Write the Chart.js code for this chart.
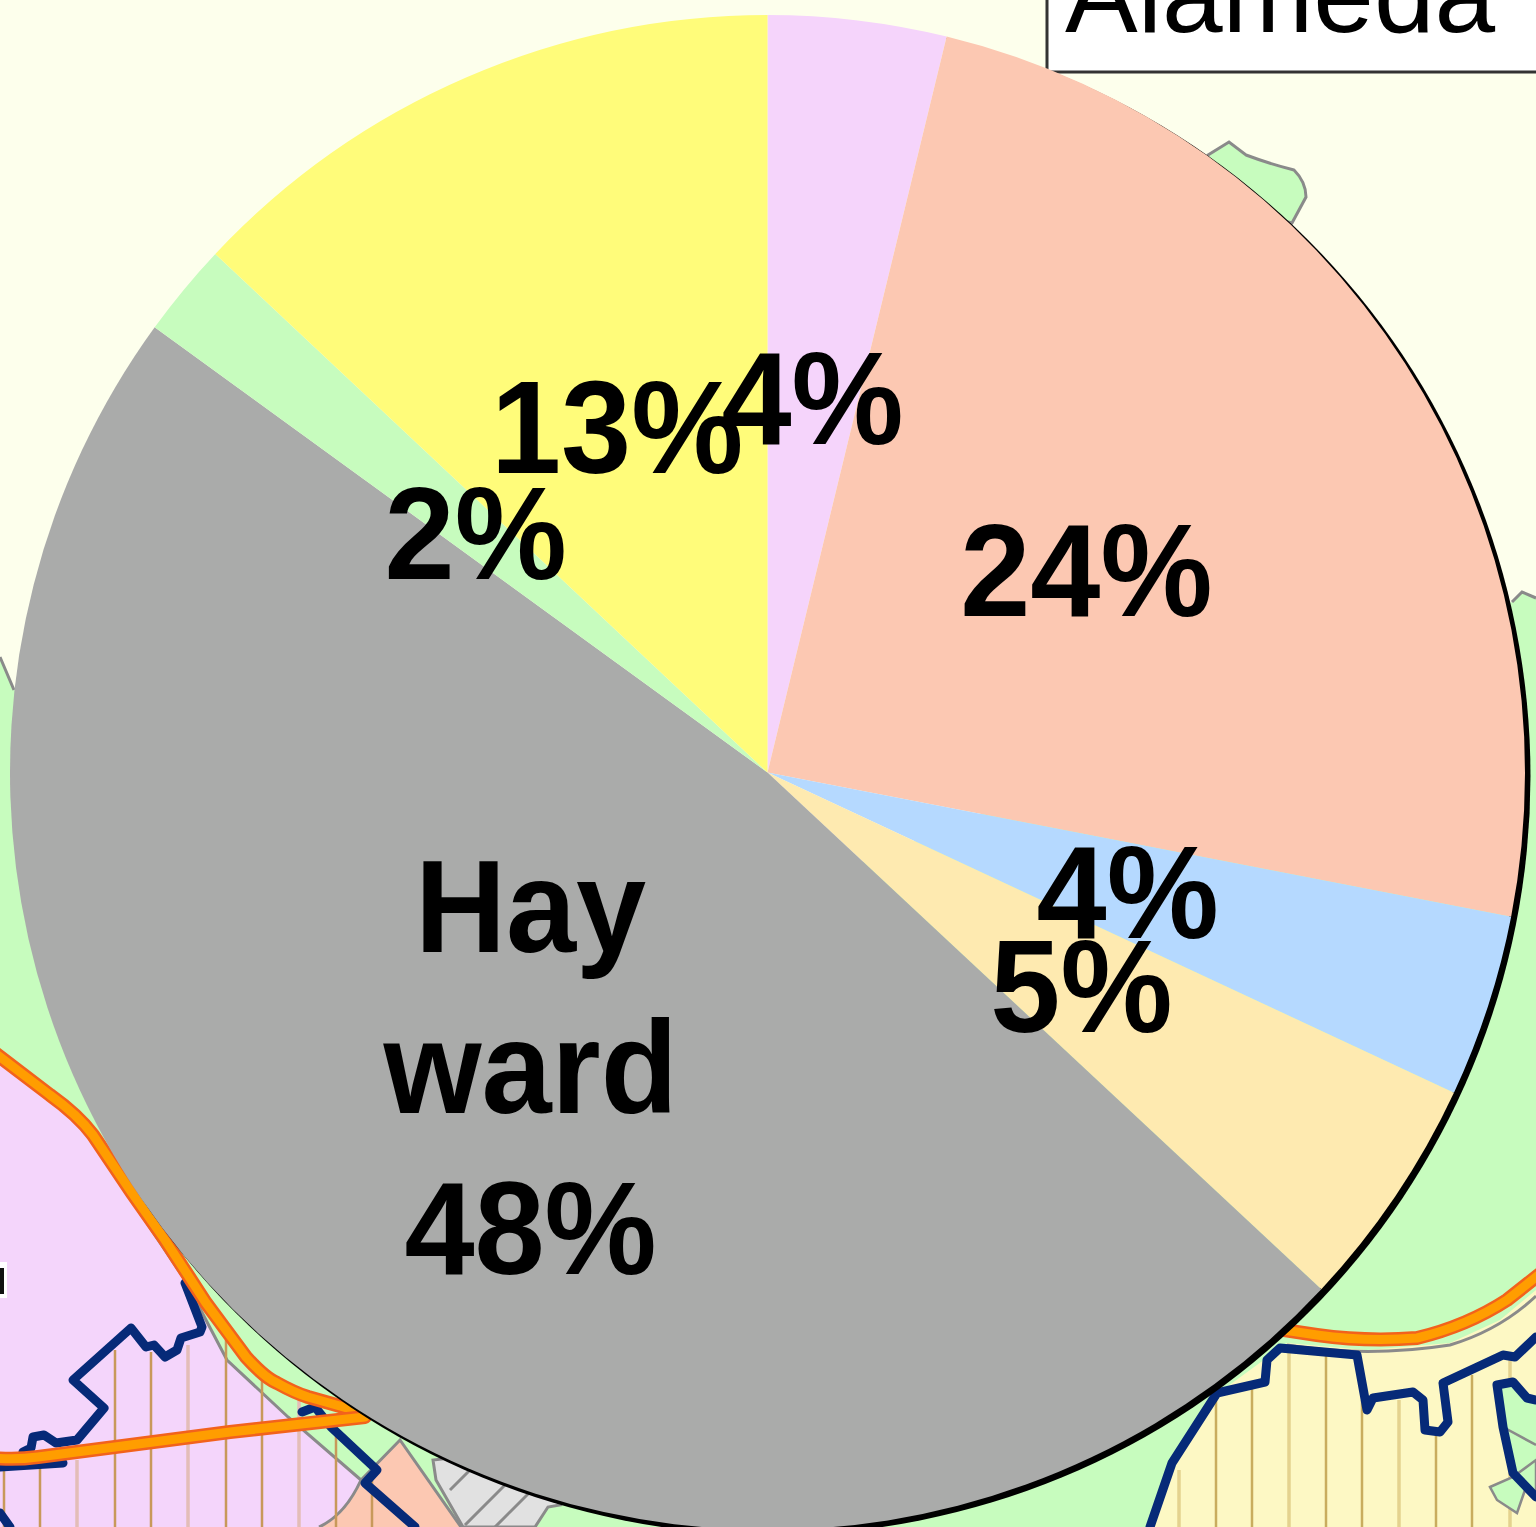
<!DOCTYPE html>
<html>
<head>
<meta charset="utf-8">
<title>Hayward</title>
<script src="https://cdn.jsdelivr.net/npm/chart.js@4"></script>
<style>
  html, body { margin: 0; padding: 0; width: 1536px; height: 1527px; overflow: hidden; background: #fdffec; }
  #map, #pie { position: absolute; left: 0; top: 0; }
  #map text { font-family: "Liberation Sans", Arial, sans-serif; font-size: 109px; }
</style>
</head>
<body>
<!-- map behind the pie -->
<svg id="map" width="1536" height="1527" viewBox="0 0 1536 1527">
  <rect x="1047" y="-10" width="520" height="82" fill="#fff" stroke="#333" stroke-width="3"/>
  <text x="1065" y="32" fill="#000">Alameda</text>

  <path d="M1208,155 L1229,142 L1246,155 Q1270,164 1294,170 Q1306,182 1306,197 L1292,223 L1200,200 Z" fill="#c7fcbe" stroke="#8a8a8a" stroke-width="3"/>
  <path d="M0,657 L14,690 L767,900 L1512,602 L1522,592 L1536,598 L1536,1527 L0,1527 Z" fill="#c7fcbe"/>
  <path d="M0,657 L14,690 M1512,602 L1522,592 L1536,598" fill="none" stroke="#8a8a8a" stroke-width="3"/>

  <!-- lilac area, left -->
  <path d="M0,1053 L50,1095 Q78,1115 93,1135 L132,1190 L185,1280 L227,1360 L288,1417 L361,1480 Q345,1515 319,1527 L0,1527 Z" fill="#f4d5fb"/>
  <path d="M120,1183 L185,1280 L227,1360 L288,1417 L361,1480" fill="none" stroke="#8a8a8a" stroke-width="3"/>
  <path d="M400,1440 L461,1527 L319,1527 Q345,1515 361,1480 Z" fill="#fcc8b2"/>
  <path d="M319,1527 Q345,1515 361,1480 L400,1440 L461,1527" fill="none" stroke="#8a8a8a" stroke-width="3"/>
  <path d="M433,1460 L436,1480 L463,1527 L535,1527 L548,1507 L560,1505 L520,1450 Z" fill="#e1e1e1" stroke="#8a8a8a" stroke-width="3"/>
  <path d="M450,1490 L485,1455 M465,1525 L520,1470 M495,1527 L545,1477" stroke="#8a8a8a" stroke-width="3" fill="none"/>
  <path d="M4,1462V1527 M40,1462V1527 M115,1350V1527 M151,1352V1527 M226,1340V1527 M262,1380V1527 M336,1430V1527 M372,1480V1527" stroke="#c8995a" stroke-width="2.5"/>
  <path d="M77,1460V1527 M188,1345V1527 M299,1400V1527" stroke="#e3bdb8" stroke-width="3.5"/>

  <!-- yellow area, right -->
  <path d="M1150,1527 L1172,1463 L1203,1410 L1213,1397 L1287,1343 L1367,1350 L1450,1343 L1500,1320 L1536,1290 L1536,1527 Z" fill="#fdf8c4"/>
  <path d="M1179,1470V1527 M1289,1350V1527 M1399,1400V1527 M1510,1360V1527" stroke="#e4d28f" stroke-width="3.5"/>
  <path d="M1216,1400V1527 M1252,1385V1527 M1326,1352V1527 M1362,1400V1527 M1436,1432V1527 M1472,1375V1527" stroke="#c9ad5e" stroke-width="2.5"/>
  <path d="M1497,1383 L1513,1380 L1527,1398 L1536,1400 L1536,1497 L1513,1473 L1503,1427 Z" fill="#c7fcbe"/>
  <path d="M1490,1487 L1513,1477 L1536,1460 L1536,1497 L1525,1490 L1517,1513 L1497,1500 Z" fill="#c7fcbe" stroke="#8a8a8a" stroke-width="2.5"/>
  <path d="M1497,1383 L1503,1427 L1536,1445" fill="none" stroke="#8a8a8a" stroke-width="2.5"/>
  <path d="M1287,1345 Q1367,1358 1450,1345 Q1500,1330 1536,1296" fill="none" stroke="#8a8a8a" stroke-width="3"/>

  <!-- boundary lines -->
  <g fill="none" stroke="#062a78" stroke-width="9" stroke-linejoin="round" stroke-linecap="round">
    <path d="M185,1283 L202,1327 L200,1332 L181,1338 L177,1350 L165,1357 L154,1345 L146,1347 L131,1328 L73,1380 L104,1408 L77,1440 L56,1443 L44,1435 L33,1437 L31,1448 L23,1452 M0,1467 L63,1463 M0,1513 L10,1527 M302,1412 L315,1407 L331,1427 L377,1470 L365,1483 L415,1527"/>
    <path d="M1150,1527 L1172,1463 L1217,1393 L1265,1382 L1267,1360 L1280,1348 L1357,1355 L1367,1410 L1373,1398 L1413,1392 L1423,1400 L1425,1430 L1440,1432 L1448,1422 L1443,1383 L1503,1355 L1515,1357 L1536,1337 M1503,1427 L1513,1473 L1536,1497 M1503,1427 L1497,1385 L1513,1382 L1527,1398 L1536,1400"/>
  </g>

  <!-- roads -->
  <g fill="none" stroke-linejoin="round" stroke-linecap="round">
    <path d="M-5,1053 L50,1095 Q78,1115 93,1135 L132,1193 L165,1240 L206,1303 L246,1357 Q265,1378 277,1383 Q295,1393 308,1397 L354,1410" stroke="#f2621c" stroke-width="14"/>
    <path d="M-5,1053 L50,1095 Q78,1115 93,1135 L132,1193 L165,1240 L206,1303 L246,1357 Q265,1378 277,1383 Q295,1393 308,1397 L354,1410" stroke="#ff9d00" stroke-width="9"/>
    <path d="M-5,1458 Q15,1460 38,1457 L115,1447 L230,1432 L365,1417" stroke="#f2621c" stroke-width="14"/>
    <path d="M-5,1458 Q15,1460 38,1457 L115,1447 L230,1432 L365,1417" stroke="#ff9d00" stroke-width="9"/>
    <path d="M1270,1328 L1317,1335 Q1367,1342 1417,1338 Q1467,1326 1507,1300 L1545,1270" stroke="#f2621c" stroke-width="14"/>
    <path d="M1270,1328 L1317,1335 Q1367,1342 1417,1338 Q1467,1326 1507,1300 L1545,1270" stroke="#ff9d00" stroke-width="9"/>
  </g>
  <rect x="-2" y="1262" width="9" height="36" fill="#fff"/>
  <rect x="-2" y="1268" width="6" height="26" fill="#111"/>
</svg>

<canvas id="pie" width="1536" height="1545"></canvas>

<script>
const categories = ['Oakland', 'Berkeley', 'San Leandro', 'Castro Valley', 'Hayward', 'Union City', 'Fremont'];
const shares = [3.8, 24.25, 3.9, 5.0, 48.05, 2.0, 13.0];
const sliceLabels = [['4%'], ['24%'], ['4%'], ['5%'], ['Hay', 'ward', '48%'], ['2%'], ['13%']];
const sliceColors = ['#f5d4fb', '#fcc8b2', '#b5d9ff', '#feeab0', '#aaabaa', '#c7fcbe', '#fffc7a'];

// black edge sticking out on the lower right of the pie, kept off the seams
const edgePlugin = {
  id: 'edge',
  beforeDatasetsDraw(chart) {
    const arc = chart.getDatasetMeta(0).data[0];
    const ctx = chart.ctx;
    ctx.save();
    ctx.beginPath();
    ctx.rect(0, 0, chart.width, chart.height);
    ctx.arc(arc.x, arc.y, arc.outerRadius - 2, 0, Math.PI * 2);
    ctx.clip('evenodd');
    ctx.fillStyle = '#000';
    ctx.beginPath();
    ctx.arc(arc.x + 4.5, arc.y + 4, arc.outerRadius + 1, 0, Math.PI * 2);
    ctx.fill();
    ctx.restore();
  }
};

// labels sit in the middle of each slice radius, the type is a bit narrow in the picture
const labelPlugin = {
  id: 'sliceText',
  afterDatasetsDraw(chart) {
    const ctx = chart.ctx;
    ctx.save();
    ctx.font = 'bold 132px "Liberation Sans", Arial, sans-serif';
    ctx.fillStyle = '#000';
    ctx.textAlign = 'center';
    ctx.textBaseline = 'alphabetic';
    chart.getDatasetMeta(0).data.forEach((arc, i) => {
      const pos = arc.tooltipPosition();
      const lines = sliceLabels[i];
      lines.forEach((line, n) => {
        const x = pos.x + (lines.length > 1 ? 4 : 0);
        const y = pos.y + 48 + (n - (lines.length - 1) / 2) * 161;
        ctx.save();
        ctx.translate(x, y);
        ctx.scale(0.955, 1);
        ctx.fillText(line, 0, 0);
        ctx.restore();
      });
    });
    ctx.restore();
  }
};

new Chart(document.getElementById('pie'), {
  type: 'pie',
  data: {
    labels: categories,
    datasets: [{ data: shares, backgroundColor: sliceColors, borderWidth: 0 }]
  },
  options: {
    responsive: false,
    animation: false,
    layout: { padding: { left: 10, top: 15, right: 11, bottom: 15 } },
    plugins: { legend: { display: false }, tooltip: { enabled: false } }
  },
  plugins: [edgePlugin, labelPlugin]
});
</script>
</body>
</html>
